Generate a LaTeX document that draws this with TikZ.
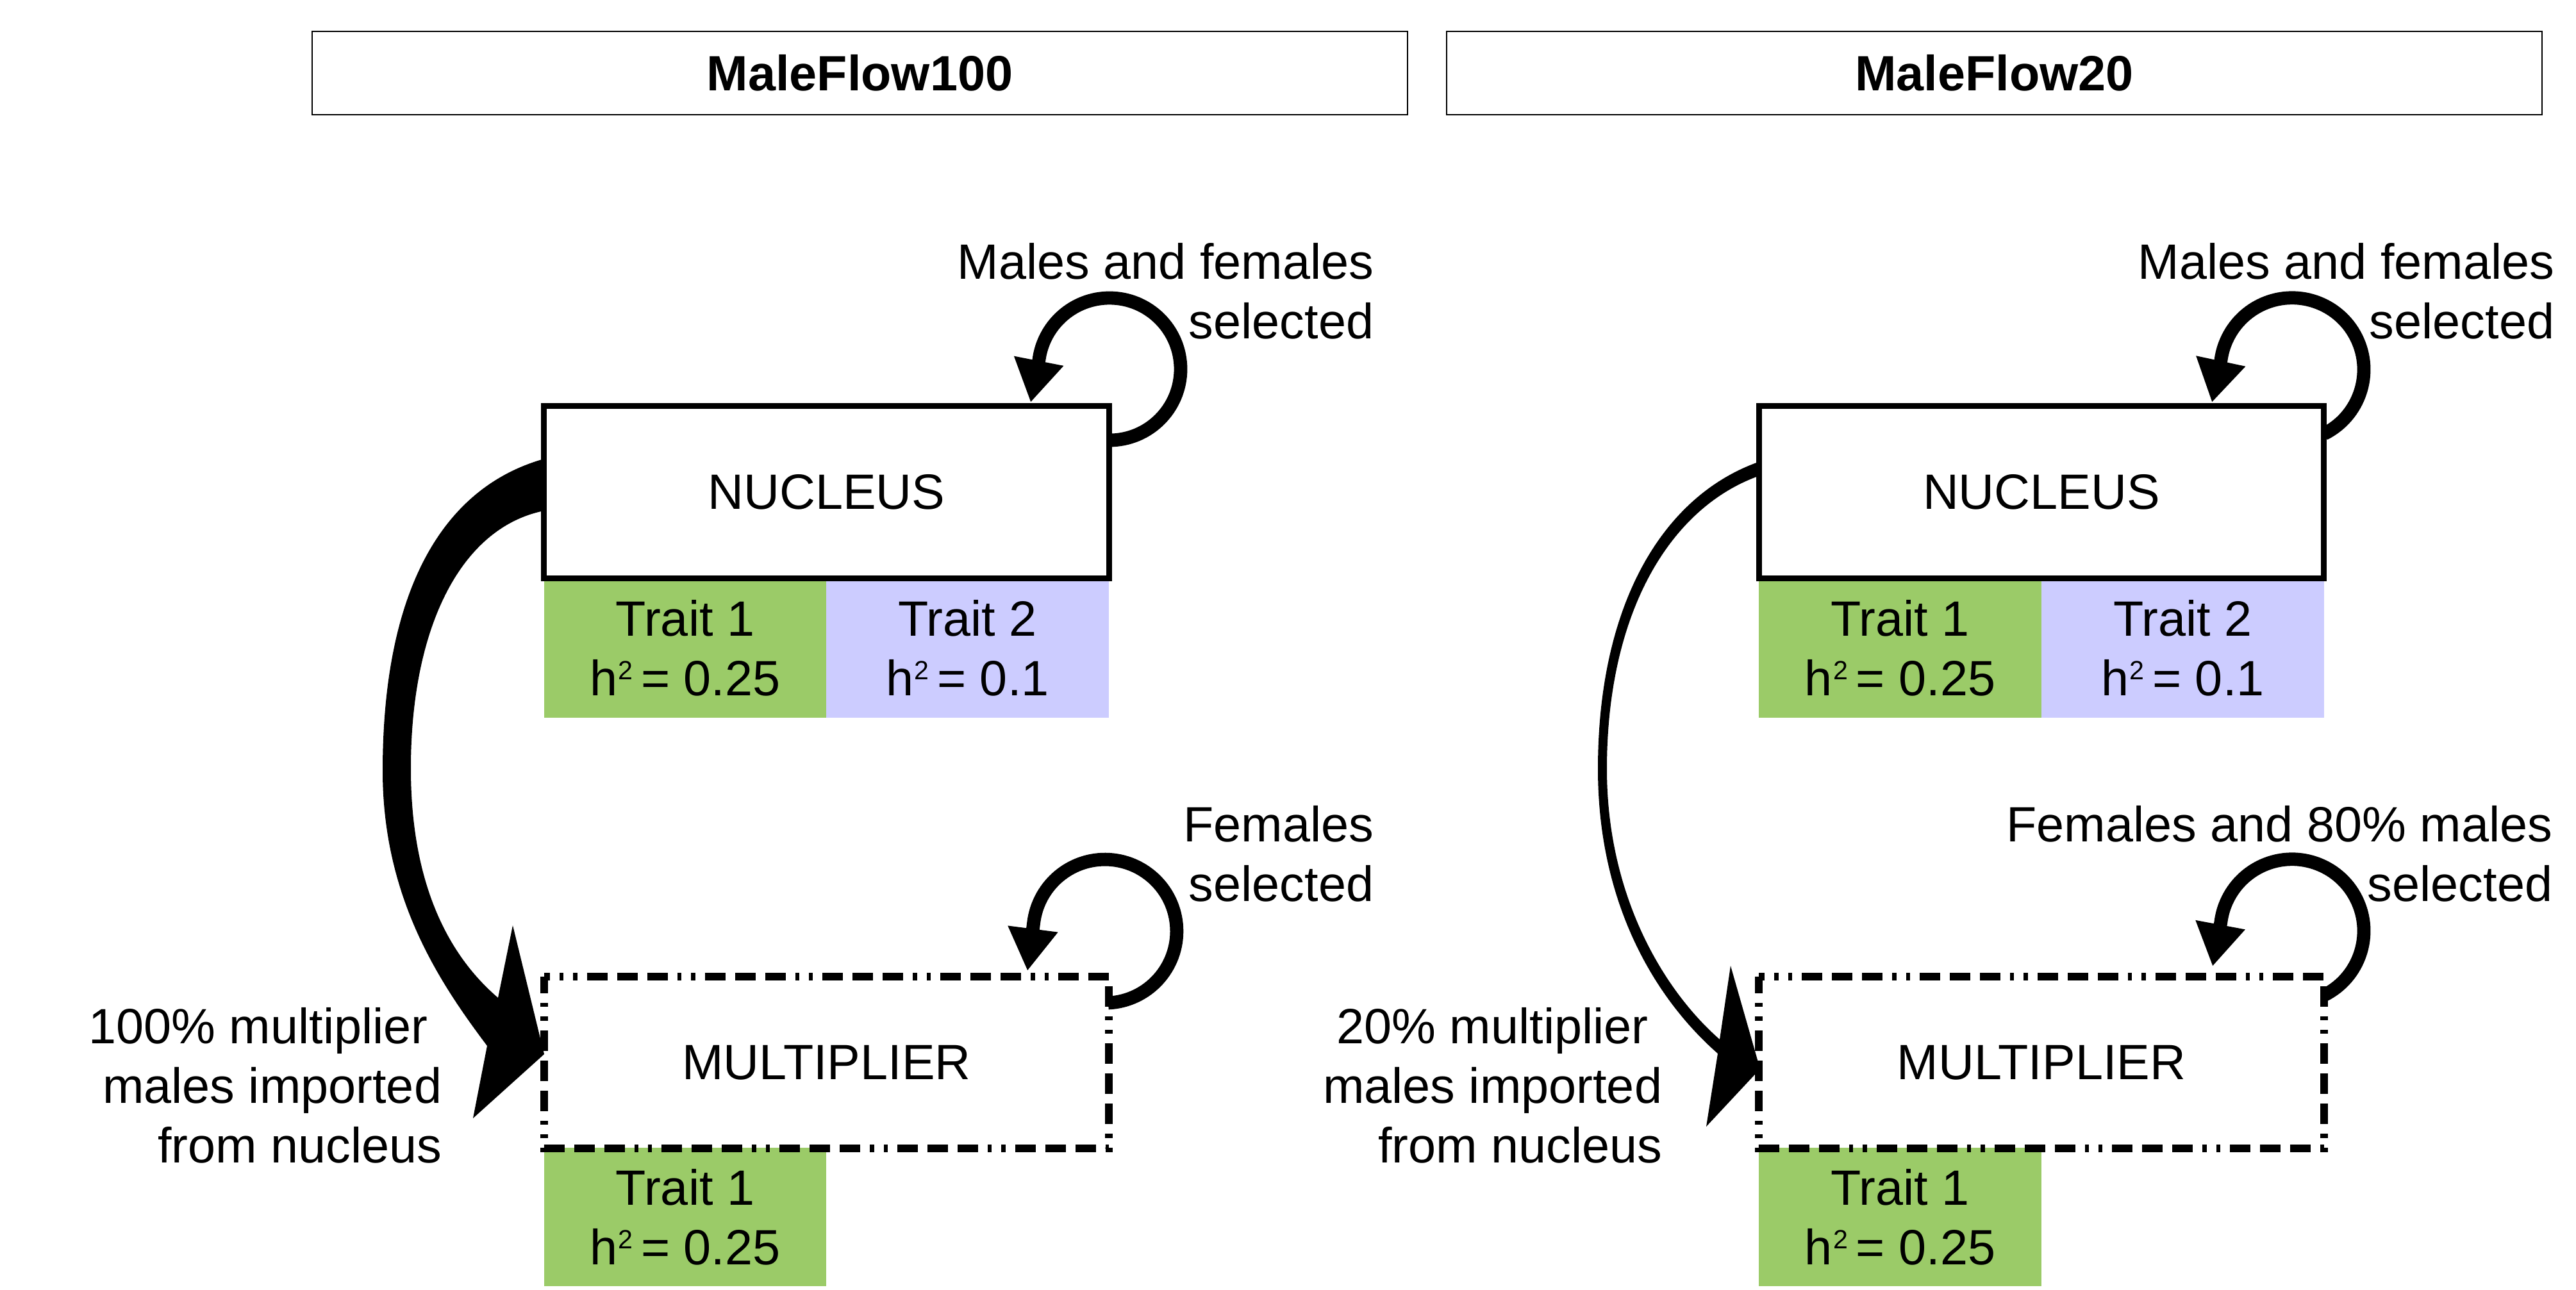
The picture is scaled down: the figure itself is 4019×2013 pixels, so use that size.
\documentclass[tikz,border=0pt]{standalone}
\usepackage{fontspec}
\setmainfont{Liberation Sans}
\usetikzlibrary{arrows.meta}
\definecolor{traitgreen}{RGB}{155,203,104}
\definecolor{traitblue}{RGB}{204,204,255}
\newcommand{\hsq}{h\kern0.3pt\raisebox{6.1pt}{\fontsize{10.3pt}{10.3pt}\selectfont 2}\kern3.2pt}
\begin{document}
\begin{tikzpicture}[x=0.25pt, y=-0.25pt,
  every node/.style={font=\fontsize{19.35pt}{23.25pt}\selectfont},
  titlebox/.style={draw=black, line width=0.3pt, minimum width=427.25pt, minimum height=32.5pt, inner sep=0pt, font=\fontsize{19.35pt}{23.25pt}\selectfont\bfseries},
  popbox/.style={draw=black, fill=white, line width=2.25pt, minimum width=220.4pt, minimum height=67.25pt, inner sep=0pt},
  multbox/.style={fill=white, minimum width=219.9pt, minimum height=66.6pt, inner sep=0pt},
  dashedge/.style={line width=3pt, line join=miter, dash pattern=on 8pt off 3.75pt on 8pt off 3.75pt on 8pt off 3.75pt on 1.6pt off 3.75pt on 1.6pt off 3.75pt, dash phase=29.25pt},
  cell/.style={inner sep=0pt, minimum width=110.2pt, minimum height=54.5pt, align=center},
  loopline/.style={line width=5.2pt, -{Triangle[length=16.5pt,width=18.5pt]}},
  lbl/.style={inner sep=0pt, align=right, anchor=north east},
  bigarrow/.style={fill=black}
]
\useasboundingbox (0,0) rectangle (4019,2013);

% titles
\node[titlebox] (tL) at (1341.5,114) {MaleFlow100};
\node[titlebox] (tR) at (3111.5,114) {MaleFlow20};

% transfer arrows (nucleus -> multiplier)
\fill[bigarrow] (849,716) .. controls (689,761) and (597,923) .. (597,1203)
  .. controls (597,1403) and (688,1536) .. (760,1632)
  -- (738,1745) -- (849,1645) -- (800,1444) -- (777,1557)
  .. controls (693,1485) and (641,1369) .. (641,1199)
  .. controls (641,979) and (719,823) .. (849,797) -- cycle;
\fill[bigarrow] (2746,720) .. controls (2596,772) and (2493,940) .. (2493,1200)
  .. controls (2493,1410) and (2582,1558) .. (2680,1644)
  -- (2662,1758) -- (2746,1668) -- (2700,1507) -- (2683,1622)
  .. controls (2593,1543) and (2507,1395) .. (2507,1200)
  .. controls (2507,955) and (2606,791) .. (2746,742) -- cycle;

% trait cells
\node[cell, fill=traitgreen] (nL1) at (1069,1011) {Trait 1\\\hsq= 0.25};
\node[cell, fill=traitblue] (nL2) at (1509.5,1011) {Trait 2\\\hsq= 0.1};
\node[cell, fill=traitgreen, minimum height=54pt] (mL1) at (1069,1899) {Trait 1\\\hsq= 0.25};
\node[cell, fill=traitgreen] (nR1) at (2964.5,1011) {Trait 1\\\hsq= 0.25};
\node[cell, fill=traitblue] (nR2) at (3405.5,1011) {Trait 2\\\hsq= 0.1};
\node[cell, fill=traitgreen, minimum height=54pt] (mR1) at (2964.5,1899) {Trait 1\\\hsq= 0.25};

% boxes
\node[popbox] (nucL) at (1289.5,767.5) {NUCLEUS};
\node[multbox] (mulL) at (1289.5,1657.75) {MULTIPLIER};
\draw[dashedge] (mulL.north west) -- (mulL.north east) -- (mulL.south east) -- (mulL.south west) -- cycle;
\node[popbox] (nucR) at (3185,767.5) {NUCLEUS};
\node[multbox] (mulR) at (3185,1657.75) {MULTIPLIER};
\draw[dashedge] (mulR.north west) -- (mulR.north east) -- (mulR.south east) -- (mulR.south west) -- cycle;

% self loops
\draw[loopline] (1731,687) arc[start angle=90, end angle=-173, radius=111] -- (1608,628);
\draw[loopline] (3626,677) arc[start angle=63.5, end angle=-173, radius=112] -- (3451,628);
\draw[loopline] (1729,1565) arc[start angle=87.4, end angle=-173, radius=112] -- (1603,1515);
\draw[loopline] (3626,1553) arc[start angle=63.5, end angle=-173, radius=112] -- (3452,1508);

% labels
\node[lbl] (selNL) at (2144,379) {Males and females\\selected};
\node[lbl] (selML) at (2144,1257) {Females\\selected};
\node[lbl] (impL) at (690,1572) {100\% multiplier\kern0.278em\\males imported\\from nucleus};
\node[lbl] (selNR) at (3986,379) {Males and females\\selected};
\node[lbl] (selMR) at (3983,1257) {Females and 80\% males\\selected};
\node[lbl] (impR) at (2594,1572) {20\% multiplier\kern0.278em\\males imported\\from nucleus};
\end{tikzpicture}
\end{document}
